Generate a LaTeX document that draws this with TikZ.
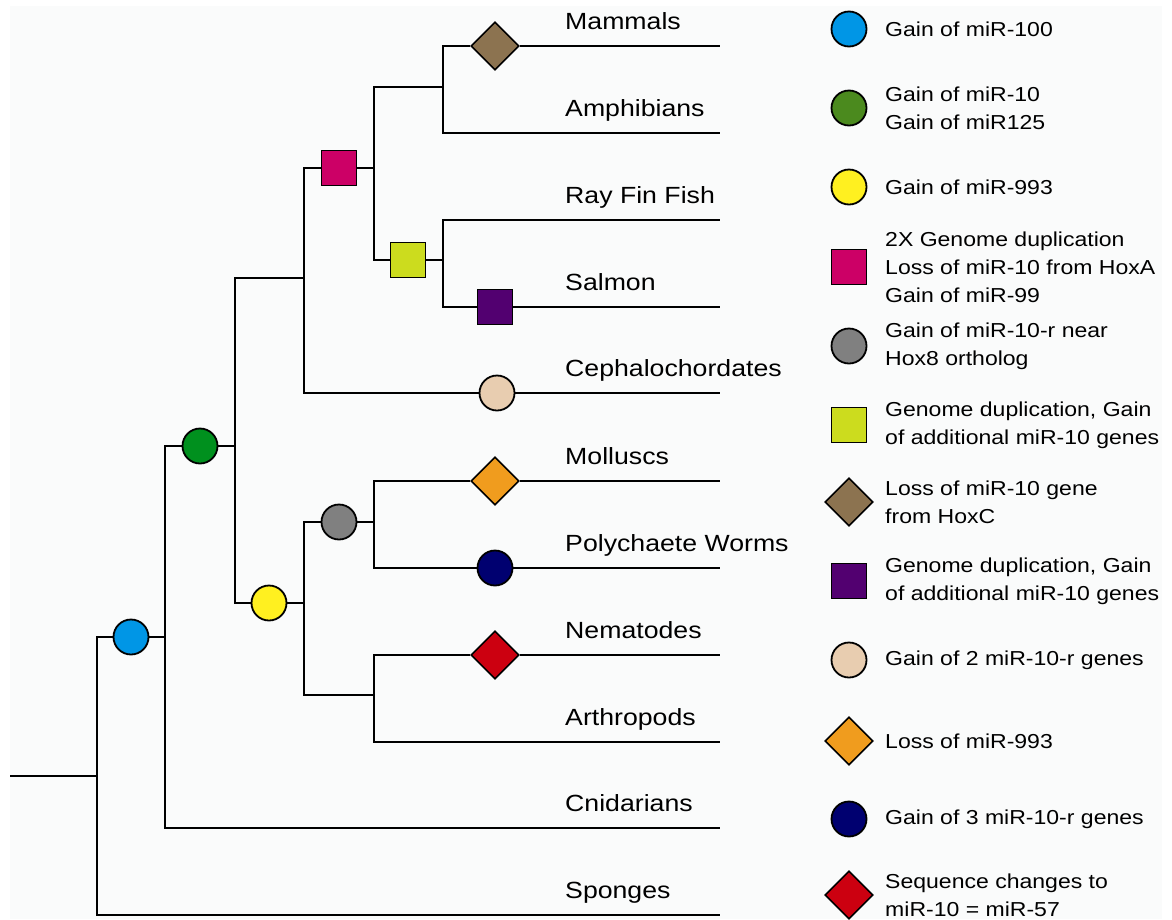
\documentclass[tikz,border=0pt]{standalone}
\usepackage{fontspec}
\setmainfont{Liberation Sans}[FakeStretch=1.14]
\usetikzlibrary{shapes.geometric}
\definecolor{bgGray}{HTML}{FAFBFB}
\definecolor{gainBlue}{HTML}{0096E6}
\definecolor{gainGreen}{HTML}{00901E}
\definecolor{keyGreen}{HTML}{4B8A1E}
\definecolor{gainYellow}{HTML}{FFF020}
\definecolor{dupMagenta}{HTML}{CC0066}
\definecolor{gainGray}{HTML}{808080}
\definecolor{dupLime}{HTML}{CCDC1E}
\definecolor{lossBrown}{HTML}{8C7350}
\definecolor{dupPurple}{HTML}{520070}
\definecolor{gainBeige}{HTML}{E8CDB0}
\definecolor{lossOrange}{HTML}{F09C1E}
\definecolor{gainNavy}{HTML}{000070}
\definecolor{seqRed}{HTML}{CC0010}

\begin{document}
\begin{tikzpicture}[x=1pt,y=-1pt,
  branch/.style={line width=1.8pt},
  evcirc/.style={circle,draw,line width=1.8pt,minimum size=35pt,inner sep=0pt},
  evsq/.style={rectangle,draw,line width=1.8pt,minimum size=35pt,inner sep=0pt},
  evdiam/.style={diamond,draw,line width=1.6pt,minimum width=48pt,minimum height=48pt,inner sep=0pt},
  taxon/.style={anchor=base west,inner sep=0pt,font=\fontsize{23.4}{28}\selectfont},
  keytext/.style={anchor=west,inner sep=0pt,align=left,font=\fontsize{20.2}{28}\selectfont}]

\useasboundingbox (0,0) rectangle (1172,919);
\fill[bgGray] (10,6) rectangle (1162,919);

% branch points and tips
\coordinate (root) at (10,776);
\coordinate (nA) at (97,776);
\coordinate (nB) at (165,637);
\coordinate (nC) at (235,446);
\coordinate (nD) at (304,278);
\coordinate (nE) at (304,603);
\coordinate (nF) at (374,168);
\coordinate (nG) at (443,87);
\coordinate (nH) at (443,260);
\coordinate (nI) at (374,522);
\coordinate (nJ) at (374,695);

\coordinate (tMam) at (720,46);
\coordinate (tAmp) at (720,133);
\coordinate (tRay) at (720,220);
\coordinate (tSal) at (720,307);
\coordinate (tCep) at (720,393);
\coordinate (tMol) at (720,481);
\coordinate (tPol) at (720,568);
\coordinate (tNem) at (720,655);
\coordinate (tArt) at (720,742);
\coordinate (tCni) at (720,828);
\coordinate (tSpo) at (720,915);

% events on the tree
\node[evcirc,fill=gainBlue] (gain100) at (131,637) {};
\node[evcirc,fill=gainGreen] (gain10) at (200,446) {};
\node[evcirc,fill=gainYellow] (gain993) at (269,603) {};
\node[evsq,fill=dupMagenta] (dup2x) at (339,168) {};
\node[evcirc,fill=gainGray] (gainR) at (339,522) {};
\node[evsq,fill=dupLime] (dupFish) at (408,260) {};
\node[evdiam,fill=lossBrown] (lossC) at (495,46) {};
\node[evsq,fill=dupPurple] (dupSalmon) at (495,307) {};
\node[evcirc,fill=gainBeige] (gain2r) at (497,393) {};
\node[evdiam,fill=lossOrange] (loss993) at (495,481) {};
\node[evcirc,fill=gainNavy] (gain3r) at (495,568) {};
\node[evdiam,fill=seqRed] (seq57) at (495,655) {};

\draw[branch] (root) -- (nA);
\draw[branch] (nA) |- (gain100) -- (nB);
\draw[branch] (nA) |- (tSpo);
\draw[branch] (nB) |- (gain10) -- (nC);
\draw[branch] (nB) |- (tCni);
\draw[branch] (nC) |- (nD);
\draw[branch] (nC) |- (gain993) -- (nE);
\draw[branch] (nD) |- (dup2x) -- (nF);
\draw[branch] (nD) |- (gain2r) -- (tCep);
\draw[branch] (nF) |- (nG);
\draw[branch] (nF) |- (dupFish) -- (nH);
\draw[branch] (nG) |- (lossC) -- (tMam);
\draw[branch] (nG) |- (tAmp);
\draw[branch] (nH) |- (tRay);
\draw[branch] (nH) |- (dupSalmon) -- (tSal);
\draw[branch] (nE) |- (gainR) -- (nI);
\draw[branch] (nE) |- (nJ);
\draw[branch] (nI) |- (loss993) -- (tMol);
\draw[branch] (nI) |- (gain3r) -- (tPol);
\draw[branch] (nJ) |- (seq57) -- (tNem);
\draw[branch] (nJ) |- (tArt);

% taxa
\node[taxon] (lMam) at (565,29) {Mammals};
\node[taxon] (lAmp) at (565,116) {Amphibians};
\node[taxon] (lRay) at (565,203) {Ray Fin Fish};
\node[taxon] (lSal) at (565,290) {Salmon};
\node[taxon] (lCep) at (565,376) {Cephalochordates};
\node[taxon] (lMol) at (565,464) {Molluscs};
\node[taxon] (lPol) at (565,551) {Polychaete Worms};
\node[taxon] (lNem) at (565,638) {Nematodes};
\node[taxon] (lArt) at (565,725) {Arthropods};
\node[taxon] (lCni) at (565,811) {Cnidarians};
\node[taxon] (lSpo) at (565,898) {Sponges};

% key
\node[evcirc,fill=gainBlue] (kGain100) at (849,29) {};
\node[evcirc,fill=keyGreen] (kGain10) at (849,108) {};
\node[evcirc,fill=gainYellow] (kGain993) at (849,187) {};
\node[evsq,fill=dupMagenta] (kDup2x) at (849,267) {};
\node[evcirc,fill=gainGray] (kGainR) at (849,346) {};
\node[evsq,fill=dupLime] (kDupFish) at (849,425) {};
\node[evdiam,fill=lossBrown] (kLossC) at (849,502) {};
\node[evsq,fill=dupPurple] (kDupSalmon) at (849,581) {};
\node[evcirc,fill=gainBeige] (kGain2r) at (849,660) {};
\node[evdiam,fill=lossOrange] (kLoss993) at (849,741) {};
\node[evcirc,fill=gainNavy] (kGain3r) at (849,819) {};
\node[evdiam,fill=seqRed] (kSeq57) at (849,895) {};

\node[keytext] (xGain100) at (885,29) {Gain of miR-100};
\node[keytext] (xGain10) at (885,108) {Gain of miR-10\\Gain of miR125};
\node[keytext] (xGain993) at (885,187) {Gain of miR-993};
\node[keytext] (xDup2x) at (885,267) {2X Genome duplication\\Loss of miR-10 from HoxA\\Gain of miR-99};
\node[keytext] (xGainR) at (885,346) {Gain of miR-10-r near\\Hox8 ortholog};
\node[keytext] (xDupFish) at (885,425) {Genome duplication, Gain\\of additional miR-10 genes};
\node[keytext] (xLossC) at (885,502) {Loss of miR-10 gene\\from HoxC};
\node[keytext] (xDupSalmon) at (885,581) {Genome duplication, Gain\\of additional miR-10 genes};
\node[keytext] (xGain2r) at (885,660) {Gain of 2 miR-10-r genes};
\node[keytext] (xLoss993) at (885,741) {Loss of miR-993};
\node[keytext] (xGain3r) at (885,819) {Gain of 3 miR-10-r genes};
\node[keytext] (xSeq57) at (885,895) {Sequence changes to\\miR-10 = miR-57};
\end{tikzpicture}
\end{document}
